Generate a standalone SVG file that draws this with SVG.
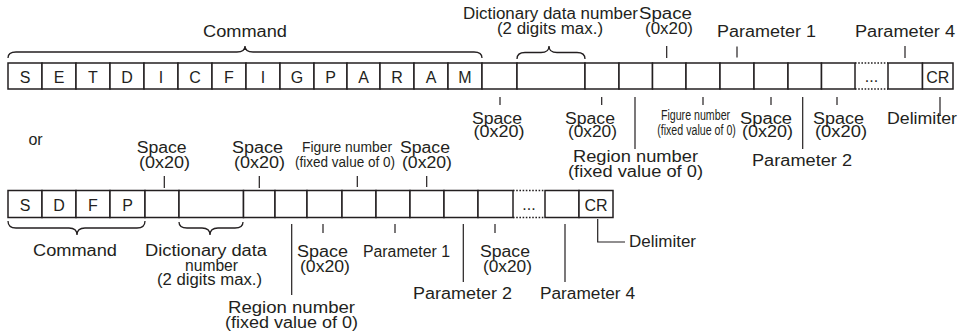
<svg xmlns="http://www.w3.org/2000/svg" width="962" height="333" viewBox="0 0 962 333">
<style>
text{font-family:"Liberation Sans",Arial,Helvetica,sans-serif;font-size:16px;fill:#231f20;text-anchor:middle}
.cell{fill:#fff;stroke:#231f20;stroke-width:1.5}
.dot{stroke:#231f20;stroke-width:1.5;stroke-dasharray:1.6 1.6;fill:none}
.ln{stroke:#231f20;stroke-width:1.2;fill:none}
.br{stroke:#231f20;stroke-width:1.3;fill:none}
.sm{font-size:14px}
.cd{font-size:15px}
.st{text-anchor:start}
</style>
<rect width="962" height="333" fill="#fff"/>

<!-- Row 1 cells -->
<g id="row1">
<rect class="cell" x="8" y="63" width="34" height="26"/><text x="25" y="82.5">S</text>
<rect class="cell" x="42" y="63" width="34" height="26"/><text x="59" y="82.5">E</text>
<rect class="cell" x="76" y="63" width="34" height="26"/><text x="93" y="82.5">T</text>
<rect class="cell" x="110" y="63" width="34" height="26"/><text x="127" y="82.5">D</text>
<rect class="cell" x="144" y="63" width="34" height="26"/><text x="161" y="82.5">I</text>
<rect class="cell" x="178" y="63" width="34" height="26"/><text x="195" y="82.5">C</text>
<rect class="cell" x="212" y="63" width="34" height="26"/><text x="229" y="82.5">F</text>
<rect class="cell" x="246" y="63" width="34" height="26"/><text x="263" y="82.5">I</text>
<rect class="cell" x="280" y="63" width="34" height="26"/><text x="297" y="82.5">G</text>
<rect class="cell" x="314" y="63" width="33" height="26"/><text x="330.5" y="82.5">P</text>
<rect class="cell" x="347" y="63" width="33" height="26"/><text x="363.5" y="82.5">A</text>
<rect class="cell" x="380" y="63" width="34" height="26"/><text x="397" y="82.5">R</text>
<rect class="cell" x="414" y="63" width="34" height="26"/><text x="431" y="82.5">A</text>
<rect class="cell" x="448" y="63" width="34" height="26"/><text x="465" y="82.5">M</text>
<rect class="cell" x="482" y="63" width="35" height="26"/>
<rect class="cell" x="517" y="63" width="68" height="26"/>
<rect class="cell" x="585" y="63" width="34" height="26"/>
<rect class="cell" x="619" y="63" width="33.5" height="26"/>
<rect class="cell" x="652.5" y="63" width="33.5" height="26"/>
<rect class="cell" x="686" y="63" width="34" height="26"/>
<rect class="cell" x="720" y="63" width="34" height="26"/>
<rect class="cell" x="754" y="63" width="34" height="26"/>
<rect class="cell" x="788" y="63" width="33.5" height="26"/>
<rect class="cell" x="821.5" y="63" width="33.5" height="26"/>
<line class="dot" x1="855" y1="63" x2="888" y2="63"/>
<line class="dot" x1="855" y1="89" x2="888" y2="89"/>
<text x="871.5" y="82">...</text>
<rect class="cell" x="888" y="63" width="34.5" height="26"/>
<rect class="cell" x="922.5" y="63" width="30.5" height="26"/><text x="937.7" y="82.5">CR</text>
</g>

<!-- Row 2 cells -->
<g id="row2">
<rect class="cell" x="8" y="190.5" width="34" height="27"/><text x="25" y="210.5">S</text>
<rect class="cell" x="42" y="190.5" width="34" height="27"/><text x="59" y="210.5">D</text>
<rect class="cell" x="76" y="190.5" width="34" height="27"/><text x="93" y="210.5">F</text>
<rect class="cell" x="110" y="190.5" width="35" height="27"/><text x="127.5" y="210.5">P</text>
<rect class="cell" x="145" y="190.5" width="34" height="27"/>
<rect class="cell" x="179" y="190.5" width="64.5" height="27"/>
<rect class="cell" x="243.5" y="190.5" width="31.5" height="27"/>
<rect class="cell" x="275" y="190.5" width="32" height="27"/>
<rect class="cell" x="307" y="190.5" width="35" height="27"/>
<rect class="cell" x="342" y="190.5" width="34" height="27"/>
<rect class="cell" x="376" y="190.5" width="34" height="27"/>
<rect class="cell" x="410" y="190.5" width="34" height="27"/>
<rect class="cell" x="444" y="190.5" width="34" height="27"/>
<rect class="cell" x="478" y="190.5" width="35" height="27"/>
<line class="dot" x1="513" y1="190.5" x2="545" y2="190.5"/>
<line class="dot" x1="513" y1="217.5" x2="545" y2="217.5"/>
<text x="529" y="210">...</text>
<rect class="cell" x="545" y="190.5" width="34" height="27"/>
<rect class="cell" x="579" y="190.5" width="34" height="27"/><text x="596" y="210.5">CR</text>
</g>

<!-- Connectors: braces, ticks, leader lines -->
<g id="connectors">
<path class="br" d="M8,58 Q8,52 16,52 L237,52 Q245,52 245,46 Q245,52 253,52 L474,52 Q482,52 482,58"/>
<path class="br" d="M517,59 Q517,52.5 525,52.5 L541,52.5 Q549,52.5 549,46 Q549,52.5 557,52.5 L577,52.5 Q585,52.5 585,59"/>
<path class="br" d="M8,221 Q8,228 16,228 L69,228 Q77,228 77,235 Q77,228 85,228 L137,228 Q145,228 145,221"/>
<path class="br" d="M179,222 Q179,228 187,228 L202,228 Q210,228 210,235 Q210,228 218,228 L235,228 Q243,228 243,222"/>
<line class="ln" x1="666.7" y1="46" x2="666.7" y2="58"/>
<line class="ln" x1="737" y1="46.5" x2="737" y2="57.5"/>
<line class="ln" x1="905" y1="46" x2="905" y2="58"/>
<line class="ln" x1="500" y1="97" x2="500" y2="105"/>
<line class="ln" x1="601.7" y1="97" x2="601.7" y2="105"/>
<line class="ln" x1="635" y1="97" x2="635" y2="149"/>
<line class="ln" x1="703" y1="97" x2="703" y2="105"/>
<line class="ln" x1="771" y1="97" x2="771" y2="105"/>
<line class="ln" x1="802.7" y1="97" x2="802.7" y2="149"/>
<line class="ln" x1="837" y1="97" x2="837" y2="105"/>
<line class="ln" x1="940" y1="97" x2="940" y2="116"/>
<line class="ln" x1="164.3" y1="176" x2="164.3" y2="188"/>
<line class="ln" x1="259.3" y1="176" x2="259.3" y2="188"/>
<line class="ln" x1="357.3" y1="176" x2="357.3" y2="187"/>
<line class="ln" x1="426.7" y1="176" x2="426.7" y2="187"/>
<line class="ln" x1="291.7" y1="224" x2="291.7" y2="295"/>
<line class="ln" x1="323" y1="224" x2="323" y2="233"/>
<line class="ln" x1="395" y1="224" x2="395" y2="233"/>
<line class="ln" x1="463.3" y1="224" x2="463.3" y2="282"/>
<line class="ln" x1="495" y1="224" x2="495" y2="233"/>
<line class="ln" x1="565" y1="224" x2="565" y2="282"/>
<polyline class="ln" points="597.7,219 597.7,242 625,242"/>
</g>

<!-- Labels, row 1 -->
<g id="lbl-command-1"><text x="245" y="37" textLength="84" lengthAdjust="spacingAndGlyphs">Command</text></g>
<g id="lbl-dict-1"><text><tspan x="550.5" y="19" textLength="175" lengthAdjust="spacingAndGlyphs">Dictionary data number</tspan><tspan x="550" y="33.5" textLength="106" lengthAdjust="spacingAndGlyphs">(2 digits max.)</tspan></text></g>
<g id="lbl-space-top-1"><text><tspan x="665.5" y="19" textLength="53" lengthAdjust="spacingAndGlyphs">Space</tspan><tspan x="669" y="34" textLength="48" lengthAdjust="spacingAndGlyphs">(0x20)</tspan></text></g>
<g id="lbl-param1-1"><text x="766.5" y="37" textLength="99" lengthAdjust="spacingAndGlyphs">Parameter 1</text></g>
<g id="lbl-param4-1"><text x="905" y="37" textLength="100" lengthAdjust="spacingAndGlyphs">Parameter 4</text></g>
<g id="lbl-space-a-1"><text><tspan x="497" y="123.5" textLength="50" lengthAdjust="spacingAndGlyphs">Space</tspan><tspan x="499" y="137" textLength="51" lengthAdjust="spacingAndGlyphs">(0x20)</tspan></text></g>
<g id="lbl-space-b-1"><text><tspan x="590" y="123.5" textLength="50" lengthAdjust="spacingAndGlyphs">Space</tspan><tspan x="592.5" y="137" textLength="49" lengthAdjust="spacingAndGlyphs">(0x20)</tspan></text></g>
<g id="lbl-region-1"><text><tspan x="635.5" y="162" textLength="125" lengthAdjust="spacingAndGlyphs">Region number</tspan><tspan x="635.5" y="177" textLength="135" lengthAdjust="spacingAndGlyphs">(fixed value of 0)</tspan></text></g>
<g id="lbl-figure-1"><text class="cd" transform="translate(695.5,0) scale(0.71,1)"><tspan x="0" y="120.5">Figure number</tspan><tspan x="1.4" y="135">(fixed value of 0)</tspan></text></g>
<g id="lbl-space-c-1"><text><tspan x="766" y="123.5" textLength="52" lengthAdjust="spacingAndGlyphs">Space</tspan><tspan x="767.5" y="137" textLength="51" lengthAdjust="spacingAndGlyphs">(0x20)</tspan></text></g>
<g id="lbl-param2-1"><text x="802" y="166" textLength="100" lengthAdjust="spacingAndGlyphs">Parameter 2</text></g>
<g id="lbl-space-d-1"><text><tspan x="838.5" y="123.5" textLength="51" lengthAdjust="spacingAndGlyphs">Space</tspan><tspan x="841" y="137" textLength="52" lengthAdjust="spacingAndGlyphs">(0x20)</tspan></text></g>
<g id="lbl-delim-1"><text x="922" y="124" textLength="70" lengthAdjust="spacingAndGlyphs">Delimiter</text></g>

<g id="lbl-or"><text x="35.5" y="145">or</text></g>

<!-- Labels, row 2 -->
<g id="lbl-space-a-2"><text><tspan x="161.7" y="153" textLength="50" lengthAdjust="spacingAndGlyphs">Space</tspan><tspan x="164.5" y="167.5" textLength="51" lengthAdjust="spacingAndGlyphs">(0x20)</tspan></text></g>
<g id="lbl-space-b-2"><text><tspan x="257.5" y="153" textLength="51" lengthAdjust="spacingAndGlyphs">Space</tspan><tspan x="259.5" y="167.5" textLength="51" lengthAdjust="spacingAndGlyphs">(0x20)</tspan></text></g>
<g id="lbl-figure-2"><text class="sm"><tspan x="347" y="152" textLength="90" lengthAdjust="spacingAndGlyphs">Figure number</tspan><tspan x="345" y="166.5" textLength="100" lengthAdjust="spacingAndGlyphs">(fixed value of 0)</tspan></text></g>
<g id="lbl-space-c-2"><text><tspan x="425" y="153" textLength="50" lengthAdjust="spacingAndGlyphs">Space</tspan><tspan x="427" y="167.5" textLength="50" lengthAdjust="spacingAndGlyphs">(0x20)</tspan></text></g>
<g id="lbl-command-2"><text x="75" y="256" textLength="84" lengthAdjust="spacingAndGlyphs">Command</text></g>
<g id="lbl-dict-2"><text><tspan x="206" y="256" textLength="122" lengthAdjust="spacingAndGlyphs">Dictionary data</tspan><tspan x="211.5" y="270.5" textLength="53" lengthAdjust="spacingAndGlyphs">number</tspan><tspan x="209.5" y="285" textLength="105" lengthAdjust="spacingAndGlyphs">(2 digits max.)</tspan></text></g>
<g id="lbl-space-d-2"><text><tspan x="322.5" y="257" textLength="51" lengthAdjust="spacingAndGlyphs">Space</tspan><tspan x="325" y="271.5" textLength="50" lengthAdjust="spacingAndGlyphs">(0x20)</tspan></text></g>
<g id="lbl-param1-2"><text x="406.5" y="257" textLength="87" lengthAdjust="spacingAndGlyphs">Parameter 1</text></g>
<g id="lbl-space-e-2"><text><tspan x="505" y="257" textLength="50" lengthAdjust="spacingAndGlyphs">Space</tspan><tspan x="507.5" y="271.5" textLength="49" lengthAdjust="spacingAndGlyphs">(0x20)</tspan></text></g>
<g id="lbl-param2-2"><text x="462.5" y="299" textLength="99" lengthAdjust="spacingAndGlyphs">Parameter 2</text></g>
<g id="lbl-param4-2"><text x="587.5" y="299" textLength="95" lengthAdjust="spacingAndGlyphs">Parameter 4</text></g>
<g id="lbl-region-2"><text><tspan x="291.5" y="313" textLength="127" lengthAdjust="spacingAndGlyphs">Region number</tspan><tspan x="291.5" y="328" textLength="133" lengthAdjust="spacingAndGlyphs">(fixed value of 0)</tspan></text></g>
<g id="lbl-delim-2"><text class="st" x="629" y="247" textLength="67" lengthAdjust="spacingAndGlyphs">Delimiter</text></g>
</svg>
